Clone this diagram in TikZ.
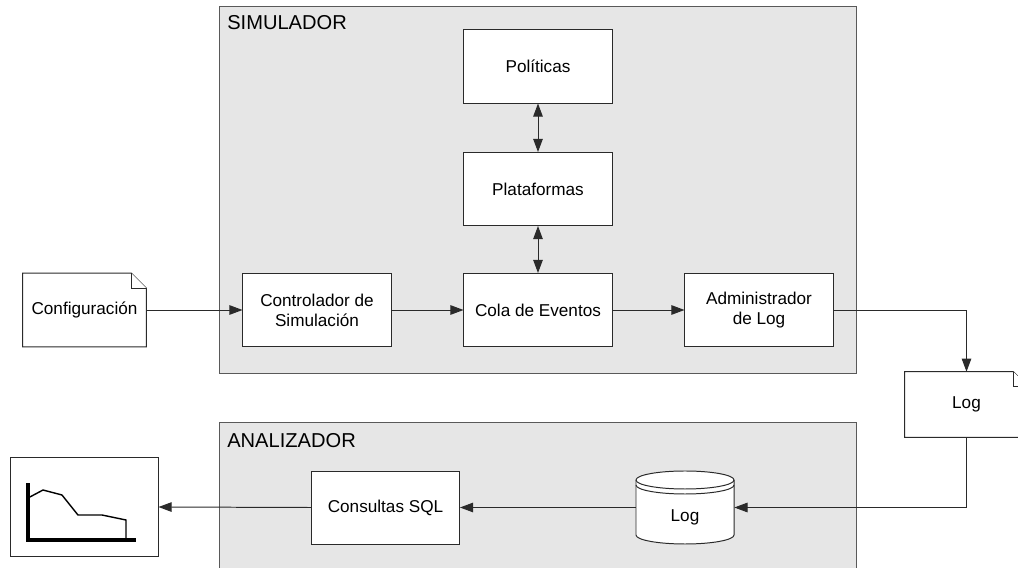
\documentclass[tikz,border=0pt]{standalone}
\usepackage{fontspec}
\setmainfont{Liberation Sans}
\usepackage{xcolor}
\usetikzlibrary{arrows.meta,positioning}
\definecolor{fondo}{HTML}{E6E6E6}
\definecolor{borde}{HTML}{2A2A2A}
\tikzset{
  texto/.style={font=\fontsize{12.2}{14.2}\selectfont,align=center},
  caja/.style={texto,draw=borde,fill=white,line width=0.7pt,minimum width=3.7cm,minimum height=1.825cm},
  doc/.style={texto,minimum width=3.075cm,minimum height=1.825cm},
  hoja/.style={draw=borde,fill=white,line width=0.7pt},
  marco/.style={draw=black!65,fill=fondo,line width=0.7pt},
  titulo/.style={font=\fontsize{14.3}{16}\selectfont,anchor=base west,inner sep=0pt},
  punta/.tip={Triangle[length=0.33cm,width=0.24cm]},
  flecha/.style={draw=borde,line width=0.7pt,-punta},
  flechas/.style={draw=borde,line width=0.7pt,punta-punta}
}

\begin{document}
\begin{tikzpicture}[x=0.025cm,y=0.025cm]
\useasboundingbox (0,0) rectangle (1018,567);
\draw [marco] (219,194) rectangle (856,561);
\draw [marco] (219,-20) rectangle (856,145);
\node [titulo] (tsim) at (227,537) {SIMULADOR};
\node [titulo] (tana) at (227,120) {ANALIZADOR};

\node [caja] (pol) at (538,500.5) {Políticas};
\node [caja] (plat) at (538,378) {Plataformas};
\node [caja] (cola) at (538,257) {Cola de Eventos};
\node [caja] (ctrl) at (317,257) {Controlador de\\Simulación};
\node [caja] (adm) at (759,257) {Administrador\\de Log};
\node [caja] (sql) at (385.5,59.5) {Consultas SQL};
\node [caja,minimum width=3.675cm,minimum height=2.45cm] (graf) at (84.5,60) {};

\node [doc] (conf) at (84.5,257) {};
\draw [hoja] (conf.south west) -- (conf.north west) -- ([xshift=-0.375cm]conf.north east)
  -- ([yshift=-0.375cm]conf.north east) -- (conf.south east) -- cycle;
\draw [hoja] ([xshift=-0.375cm]conf.north east) |- ([yshift=-0.375cm]conf.north east);
\node [texto] (conft) at (conf) {Configuración};

\node [doc,minimum height=1.625cm] (logd) at (966.5,162.5) {};
\draw [hoja] (logd.south west) -- (logd.north west) -- ([xshift=-0.375cm]logd.north east)
  -- ([yshift=-0.375cm]logd.north east) -- (logd.south east) -- cycle;
\draw [hoja] ([xshift=-0.375cm]logd.north east) |- ([yshift=-0.375cm]logd.north east);
\node [texto] (logt) at (logd) {Log};

\node [minimum width=2.45cm,minimum height=1.825cm,inner sep=0pt] (db) at (685,59.5) {};
\draw [hoja] ([xshift=-1.225cm,yshift=0.6875cm]db.center) -- ++(0,-55)
  arc [start angle=180,end angle=360,x radius=1.225cm,y radius=0.225cm] -- ++(0,55)
  arc [start angle=0,end angle=180,x radius=1.225cm,y radius=0.225cm] -- cycle;
\draw [hoja,fill=none] ([xshift=-1.225cm,yshift=0.6875cm]db.center)
  arc [start angle=180,end angle=360,x radius=1.225cm,y radius=0.225cm];
\draw [hoja,fill=none] ([xshift=-1.225cm,yshift=0.5625cm]db.center)
  arc [start angle=180,end angle=360,x radius=1.225cm,y radius=0.225cm];
\node [texto] (dbt) at ([yshift=-0.24cm]db.center) {Log};

\draw [line width=2.8pt] (28,84) -- (28,27) -- (136,27);
\draw [line width=1pt] (28,69) -- (43,77) -- (62,72) -- (78,52) -- (102,52) -- (126,47) -- (126,27);

\draw [flecha] (conf.east) -- (ctrl.west);
\draw [flecha] (ctrl) -- (cola);
\draw [flecha] (cola) -- (adm);
\draw [flechas] (pol) -- (plat);
\draw [flechas] (plat) -- (cola);
\draw [flecha] (adm.east) -| (logd.north);
\draw [flecha] (logd.south) |- (db.east);
\draw [flecha] (db.west) -- (sql.east);
\draw [flecha] (sql.west) -- (graf.east);
\end{tikzpicture}
\end{document}
